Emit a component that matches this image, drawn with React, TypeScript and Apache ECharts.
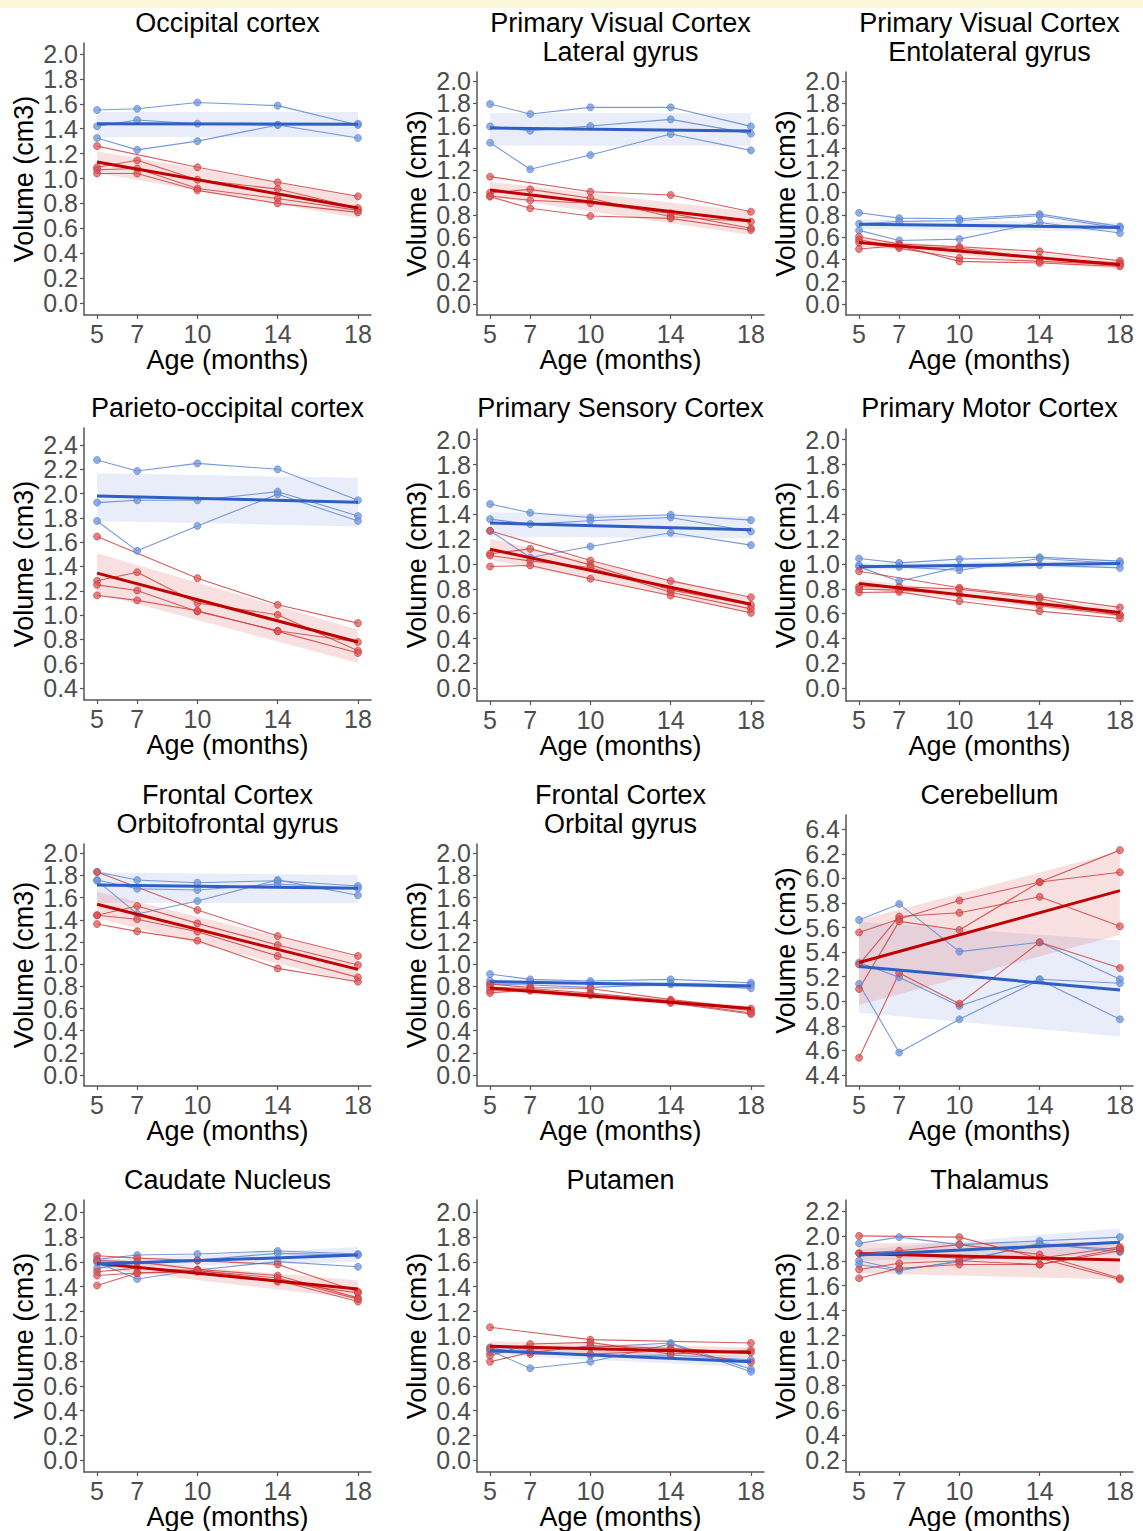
import React, { useEffect, useRef } from "react";
import * as echarts from "echarts";

// ---------- shared values ----------
const AGES = [5, 7, 10, 14, 18];
const FIT_X = [5, 18];
const TICKS_0_20 = [0, 0.2, 0.4, 0.6, 0.8, 1.0, 1.2, 1.4, 1.6, 1.8, 2.0];
const TICKS_04_24 = [0.4, 0.6, 0.8, 1.0, 1.2, 1.4, 1.6, 1.8, 2.0, 2.2, 2.4];
const TICKS_44_64 = [4.4, 4.6, 4.8, 5.0, 5.2, 5.4, 5.6, 5.8, 6.0, 6.2, 6.4];
const TICKS_02_22 = [0.2, 0.4, 0.6, 0.8, 1.0, 1.2, 1.4, 1.6, 1.8, 2.0, 2.2];

// ---------- Occipital cortex ----------
const occBlue = [
  [1.55, 1.56, 1.61, 1.585, 1.43],
  [1.42, 1.47, 1.44, 1.43, 1.44],
  [1.325, 1.23, 1.3, 1.43, 1.325],
];
const occRed = [
  [1.26, null, 1.09, 0.97, 0.857],
  [1.09, 1.146, 0.99, 0.915, 0.763],
  [1.07, 1.08, 0.92, 0.84, 0.744],
  [1.04, 1.04, 0.905, 0.8, 0.728],
];
const occBlueFit = [1.44, 1.435];
const occRedFit = [1.133, 0.763];
const occBlueBand = [[1.333, 1.534], [1.333, 1.534]];
const occRedBand = [[1.044, 1.218], [0.683, 0.857]];

// ---------- Primary Visual Cortex, Lateral gyrus ----------
const latBlue = [
  [1.794, 1.704, 1.764, 1.764, 1.593],
  [1.593, 1.554, 1.596, 1.656, 1.528],
  [1.447, 1.208, 1.336, 1.525, 1.378],
];
const latRed = [
  [1.142, null, 1.007, 0.978, 0.828],
  [0.998, 1.028, 0.948, 0.783, 0.738],
  [0.968, 0.93, 0.903, 0.813, 0.679],
  [0.963, 0.858, 0.789, 0.768, 0.664],
];
const latBlueFit = [1.578, 1.552];
const latRedFit = [1.022, 0.744];
const latBlueBand = [[1.42, 1.71], [1.42, 1.71]];
const latRedBand = [[0.963, 1.097], [0.619, 0.828]];

// ---------- Primary Visual Cortex, Entolateral gyrus ----------
const entBlue = [
  [0.818, 0.77, 0.764, 0.806, 0.696],
  [0.719, 0.74, 0.749, 0.791, 0.68],
  [0.66, 0.57, 0.582, 0.731, 0.636],
];
const entRed = [
  [0.603, 0.537, 0.513, 0.472, 0.388],
  [0.576, 0.516, 0.501, 0.412, 0.367],
  [0.552, 0.501, 0.412, 0.382, 0.352],
  [0.493, 0.522, 0.382, 0.367, 0.337],
];
const entBlueFit = [0.716, 0.687];
const entRedFit = [0.552, 0.352];
const entBlueBand = [[0.67, 0.76], [0.65, 0.73]];
const entRedBand = [[0.516, 0.59], [0.31, 0.397]];

// ---------- Parieto-occipital cortex ----------
const parBlue = [
  [2.277, 2.186, 2.249, 2.2, 1.945],
  [1.926, 1.945, 1.945, 2.016, 1.816],
  [1.775, 1.529, 1.734, 1.995, 1.775],
];
const parRed = [
  [1.647, null, 1.304, 1.085, 0.934],
  [1.282, 1.353, 1.099, 1.003, 0.707],
  [1.249, 1.203, 1.03, 0.871, 0.778],
  [1.162, 1.121, 1.036, 0.866, 0.688],
];
const parBlueFit = [1.981, 1.929];
const parRedFit = [1.345, 0.778];
const parBlueBand = [[1.775, 2.167], [1.729, 2.13]];
const parRedBand = [[1.18, 1.51], [0.605, 0.879]];

// ---------- Primary Sensory Cortex ----------
const senBlue = [
  [1.482, 1.412, 1.374, 1.396, 1.353],
  [1.361, 1.321, 1.348, 1.374, 1.262],
  [1.267, 1.052, 1.141, 1.251, 1.152],
];
const senRed = [
  [1.267, null, 1.028, 0.864, 0.733],
  [1.082, 1.122, 0.993, 0.792, 0.671],
  [1.068, 1.025, 0.972, 0.773, 0.639],
  [0.98, 0.988, 0.881, 0.746, 0.607],
];
const senBlueFit = [1.329, 1.275];
const senRedFit = [1.119, 0.677];
const senBlueBand = [[1.221, 1.417], [1.208, 1.383]];
const senRedBand = [[1.034, 1.203], [0.617, 0.725]];

// ---------- Primary Motor Cortex ----------
const motBlue = [
  [1.044, 1.009, 1.039, 1.055, 1.023],
  [0.991, 0.977, 0.95, 1.044, 1.004],
  [0.977, 0.862, 0.977, 0.991, 0.969],
];
const motRed = [
  [0.942, null, 0.809, 0.736, 0.651],
  [0.817, 0.817, 0.798, 0.723, 0.589],
  [0.798, 0.79, 0.755, 0.664, 0.589],
  [0.771, 0.776, 0.701, 0.621, 0.562],
];
const motBlueFit = [0.977, 1.004];
const motRedFit = [0.843, 0.61];
const motBlueBand = [[0.95, 1.005], [0.975, 1.035]];
const motRedBand = [[0.81, 0.875], [0.575, 0.645]];

// ---------- Frontal Cortex, Orbitofrontal gyrus ----------
const ofBlue = [
  [1.832, 1.759, 1.735, 1.753, 1.705],
  [1.759, 1.681, 1.669, 1.723, 1.684],
  [1.753, 1.453, 1.57, 1.759, 1.621],
];
const ofRed = [
  [1.832, null, 1.489, 1.254, 1.074],
  [1.441, 1.525, 1.368, 1.173, 0.992],
  [1.441, 1.405, 1.293, 1.074, 0.881],
  [1.362, 1.296, 1.212, 0.962, 0.842],
];
const ofBlueFit = [1.714, 1.684];
const ofRedFit = [1.54, 0.953];
const ofBlueBand = [[1.555, 1.826], [1.549, 1.805]];
const ofRedBand = [[1.414, 1.654], [0.827, 1.068]];

// ---------- Frontal Cortex, Orbital gyrus ----------
const orbBlue = [
  [0.911, 0.863, 0.848, 0.863, 0.833],
  [0.851, 0.842, 0.827, 0.827, 0.812],
  [0.821, 0.812, 0.791, 0.818, 0.782],
];
const orbRed = [
  [0.82, 0.79, 0.78, 0.68, 0.6],
  [0.79, 0.78, 0.74, 0.67, 0.58],
  [0.76, 0.76, 0.73, 0.66, 0.56],
  [0.74, 0.77, 0.72, 0.65, 0.55],
];
const orbBlueFit = [0.842, 0.803];
const orbRedFit = [0.785, 0.6];
const orbBlueBand = [[0.82, 0.865], [0.78, 0.83]];
const orbRedBand = [[0.76, 0.81], [0.575, 0.625]];

// ---------- Cerebellum ----------
const cerBlue = [
  [5.662, 5.792, 5.404, 5.48, 5.179],
  [5.315, 5.195, 4.962, 5.179, 5.146],
  [5.141, 4.582, 4.853, 5.173, 4.853],
];
const cerRed = [
  [5.56, 5.67, 5.82, 5.97, 6.05],
  [5.3, 5.69, 5.72, 5.85, 5.61],
  [5.1, 5.65, 5.58, 5.97, 6.23],
  [4.54, 5.23, 4.98, 5.48, 5.27],
];
const cerBlueFit = [5.282, 5.092];
const cerRedFit = [5.315, 5.9];
const cerBlueBand = [[4.907, 5.648], [4.712, 5.494]];
const cerRedBand = [[4.97, 5.66], [5.54, 6.22]];

// ---------- Caudate Nucleus ----------
const cauBlue = [
  [1.62, 1.655, 1.664, 1.688, 1.664],
  [1.548, 1.596, 1.615, 1.669, 1.655],
  [1.596, 1.462, 1.534, 1.602, 1.561],
];
const cauRed = [
  [1.65, 1.63, 1.61, 1.58, 1.36],
  [1.61, 1.6, 1.54, 1.49, 1.31],
  [1.52, 1.55, 1.53, 1.45, 1.28],
  [1.49, 1.51, 1.52, 1.44, 1.35],
  [1.41, 1.51, 1.53, 1.47, 1.3],
];
const cauBlueFit = [1.583, 1.655];
const cauRedFit = [1.588, 1.381];
const cauBlueBand = [[1.55, 1.615], [1.6, 1.72]];
const cauRedBand = [[1.55, 1.63], [1.3, 1.45]];

// ---------- Putamen ----------
const putBlue = [
  [0.911, 0.897, 0.911, 0.946, 0.735],
  [0.884, 0.743, 0.795, 0.938, 0.714],
  [0.87, 0.884, 0.843, 0.849, 0.811],
];
const putRed = [
  [1.073, null, 0.973, null, 0.946],
  [0.843, 0.938, 0.951, 0.857, 0.889],
  [0.795, 0.87, 0.924, 0.903, 0.87],
  [0.903, 0.857, 0.857, 0.884, 0.789],
];
const putBlueFit = [0.884, 0.795];
const putRedFit = [0.919, 0.87];
const putBlueBand = [[0.85, 0.92], [0.75, 0.84]];
const putRedBand = [[0.88, 0.96], [0.83, 0.91]];

// ---------- Thalamus ----------
const thaBlue = [
  [1.94, 1.99, 1.93, 1.96, 1.99],
  [1.8, 1.73, 1.79, 1.94, 1.87],
  [1.77, 1.72, 1.8, 1.93, 1.89],
];
const thaRed = [
  [2.0, null, 1.99, null, 1.65],
  [1.86, 1.88, 1.93, 1.85, 1.66],
  [1.73, 1.78, 1.8, 1.77, 1.9],
  [1.66, 1.74, 1.77, 1.77, 1.88],
  [1.86, 1.85, 1.82, 1.82, 1.91],
];
const thaBlueFit = [1.846, 1.948];
const thaRedFit = [1.857, 1.806];
const thaBlueBand = [[1.8, 1.89], [1.85, 2.06]];
const thaRedBand = [[1.7, 1.94], [1.65, 1.95]];

// ---------- panel list ----------
const PANELS = [
  { title: ["Occipital cortex"], ticks: TICKS_0_20, blue: occBlue, red: occRed, blueFit: occBlueFit, redFit: occRedFit, blueBand: occBlueBand, redBand: occRedBand },
  { title: ["Primary Visual Cortex", "Lateral gyrus"], ticks: TICKS_0_20, blue: latBlue, red: latRed, blueFit: latBlueFit, redFit: latRedFit, blueBand: latBlueBand, redBand: latRedBand },
  { title: ["Primary Visual Cortex", "Entolateral gyrus"], ticks: TICKS_0_20, blue: entBlue, red: entRed, blueFit: entBlueFit, redFit: entRedFit, blueBand: entBlueBand, redBand: entRedBand },
  { title: ["Parieto-occipital cortex"], ticks: TICKS_04_24, blue: parBlue, red: parRed, blueFit: parBlueFit, redFit: parRedFit, blueBand: parBlueBand, redBand: parRedBand },
  { title: ["Primary Sensory Cortex"], ticks: TICKS_0_20, blue: senBlue, red: senRed, blueFit: senBlueFit, redFit: senRedFit, blueBand: senBlueBand, redBand: senRedBand },
  { title: ["Primary Motor Cortex"], ticks: TICKS_0_20, blue: motBlue, red: motRed, blueFit: motBlueFit, redFit: motRedFit, blueBand: motBlueBand, redBand: motRedBand },
  { title: ["Frontal Cortex", "Orbitofrontal gyrus"], ticks: TICKS_0_20, blue: ofBlue, red: ofRed, blueFit: ofBlueFit, redFit: ofRedFit, blueBand: ofBlueBand, redBand: ofRedBand },
  { title: ["Frontal Cortex", "Orbital gyrus"], ticks: TICKS_0_20, blue: orbBlue, red: orbRed, blueFit: orbBlueFit, redFit: orbRedFit, blueBand: orbBlueBand, redBand: orbRedBand },
  { title: ["Cerebellum"], ticks: TICKS_44_64, blue: cerBlue, red: cerRed, blueFit: cerBlueFit, redFit: cerRedFit, blueBand: cerBlueBand, redBand: cerRedBand },
  { title: ["Caudate Nucleus"], ticks: TICKS_0_20, blue: cauBlue, red: cauRed, blueFit: cauBlueFit, redFit: cauRedFit, blueBand: cauBlueBand, redBand: cauRedBand },
  { title: ["Putamen"], ticks: TICKS_0_20, blue: putBlue, red: putRed, blueFit: putBlueFit, redFit: putRedFit, blueBand: putBlueBand, redBand: putRedBand },
  { title: ["Thalamus"], ticks: TICKS_02_22, blue: thaBlue, red: thaRed, blueFit: thaBlueFit, redFit: thaRedFit, blueBand: thaBlueBand, redBand: thaRedBand },
];

// ---------- layout (pixels) ----------
const COL_LEFT = [84, 477, 846];
const PLOT_W = 287;
const LAYOUT = [
  { top: 43, bottom: 315, yMin: -0.096, yMax: 2.088, titleY: 23 },
  { top: 72, bottom: 315, yMin: -0.099, yMax: 2.081, titleY: 23 },
  { top: 72, bottom: 315, yMin: -0.099, yMax: 2.081, titleY: 23 },
  { top: 428, bottom: 700, yMin: 0.301, yMax: 2.54, titleY: 408 },
  { top: 429, bottom: 701, yMin: -0.102, yMax: 2.086, titleY: 408 },
  { top: 429, bottom: 701, yMin: -0.102, yMax: 2.086, titleY: 408 },
  { top: 844, bottom: 1086, yMin: -0.099, yMax: 2.084, titleY: 795 },
  { top: 844, bottom: 1086, yMin: -0.099, yMax: 2.084, titleY: 795 },
  { top: 815, bottom: 1086, yMin: 4.31, yMax: 6.516, titleY: 795 },
  { top: 1200, bottom: 1472, yMin: -0.094, yMax: 2.099, titleY: 1180 },
  { top: 1200, bottom: 1472, yMin: -0.094, yMax: 2.099, titleY: 1180 },
  { top: 1200, bottom: 1472, yMin: 0.104, yMax: 2.288, titleY: 1180 },
];

const FONT = "Liberation Sans, Arial, sans-serif";
const AXIS_COLOR = "#555555";
const LABEL_COLOR = "#4d4d4d";
const BLUE_LINE = "rgba(95,135,210,0.85)";
const BLUE_DOT = "rgba(110,148,215,0.75)";
const BLUE_FIT = "#2f5fc4";
const BLUE_BAND = "rgba(90,130,210,0.14)";
const RED_LINE = "rgba(205,55,55,0.8)";
const RED_DOT = "rgba(215,80,80,0.7)";
const RED_FIT = "#c00000";
const RED_BAND = "rgba(220,70,70,0.17)";

function buildOption() {
  const grid: any[] = [];
  const xAxis: any[] = [];
  const yAxis: any[] = [];
  const yAxisAlt: any[] = [];
  const series: any[] = [];
  const title: any[] = [];

  const yLabelStyle = {
    fontSize: 25,
    color: LABEL_COLOR,
    margin: 6,
    fontFamily: FONT,
    showMinLabel: true,
    showMaxLabel: true,
    hideOverlap: false,
    formatter: (v: number) => v.toFixed(1),
  };

  PANELS.forEach((p, i) => {
    const L = LAYOUT[i];
    const left = COL_LEFT[i % 3];
    grid.push({ left, top: L.top, width: PLOT_W, height: L.bottom - L.top, outerBoundsMode: "none" });
    title.push({
      text: p.title.join("\n"),
      left: left + PLOT_W / 2,
      top: L.titleY - 14.5,
      textAlign: "center",
      padding: 0,
      textStyle: { fontSize: 27, fontWeight: "normal", color: "#000", lineHeight: 29, fontFamily: FONT },
    });
    xAxis.push({
      type: "value",
      gridIndex: i,
      min: 4.35,
      max: 18.65,
      name: "Age (months)",
      nameLocation: "middle",
      nameGap: 27,
      nameTextStyle: { fontSize: 27, color: "#000", fontFamily: FONT },
      axisLine: { show: true, onZero: false, lineStyle: { color: AXIS_COLOR, width: 1.5 } },
      axisTick: { show: true, length: 4, customValues: AGES, lineStyle: { color: AXIS_COLOR, width: 1.2 } },
      axisLabel: {
        customValues: AGES,
        fontSize: 25,
        color: LABEL_COLOR,
        margin: 6,
        fontFamily: FONT,
        showMinLabel: true,
        showMaxLabel: true,
        hideOverlap: false,
      },
      splitLine: { show: false },
    });
    // even ticks on the main axis, odd ticks on a twin axis so that none are dropped
    const evenTicks = p.ticks.filter((_, k) => k % 2 === 0);
    const oddTicks = p.ticks.filter((_, k) => k % 2 === 1);
    yAxis.push({
      type: "value",
      gridIndex: i,
      position: "left",
      min: L.yMin,
      max: L.yMax,
      name: "Volume (cm3)",
      nameLocation: "middle",
      nameGap: 47,
      nameRotate: 90,
      nameTextStyle: { fontSize: 27, color: "#000", fontFamily: FONT },
      axisLine: { show: true, onZero: false, lineStyle: { color: AXIS_COLOR, width: 1.5 } },
      axisTick: { show: true, length: 4, customValues: evenTicks, lineStyle: { color: AXIS_COLOR, width: 1.2 } },
      axisLabel: { ...yLabelStyle, customValues: evenTicks },
      splitLine: { show: false },
    });
    yAxisAlt.push({
      type: "value",
      gridIndex: i,
      position: "left",
      offset: 0,
      min: L.yMin,
      max: L.yMax,
      axisLine: { show: false, onZero: false },
      axisTick: { show: true, length: 4, customValues: oddTicks, lineStyle: { color: AXIS_COLOR, width: 1.2 } },
      axisLabel: { ...yLabelStyle, customValues: oddTicks },
      splitLine: { show: false },
    });

    const band = (b: number[][], color: string, z: number) => ({
      type: "custom",
      xAxisIndex: i,
      yAxisIndex: i,
      silent: true,
      z,
      data: [[FIT_X[0], b[0][0]]],
      encode: { x: 0, y: 1 },
      renderItem: (_params: any, api: any) => {
        const hi = FIT_X.map((x, k) => api.coord([x, b[k][1]]));
        const lo = FIT_X.map((x, k) => api.coord([x, b[k][0]])).reverse();
        return { type: "polygon", shape: { points: [...hi, ...lo] }, style: { fill: color } };
      },
    });
    series.push(band(p.blueBand, BLUE_BAND, 1));
    series.push(band(p.redBand, RED_BAND, 1));

    const subject = (row: (number | null)[], line: string, dot: string) => ({
      type: "line",
      xAxisIndex: i,
      yAxisIndex: i,
      data: AGES.map((a, k) => [a, row[k] === null ? "-" : row[k]]),
      connectNulls: true,
      symbol: "circle",
      symbolSize: 7,
      showSymbol: true,
      silent: true,
      z: 2,
      lineStyle: { width: 1.1, color: line },
      itemStyle: { color: dot, borderColor: line, borderWidth: 0.8 },
    });
    p.blue.forEach((row) => series.push(subject(row, BLUE_LINE, BLUE_DOT)));
    p.red.forEach((row) => series.push(subject(row, RED_LINE, RED_DOT)));

    const fit = (vals: number[], color: string) => ({
      type: "line",
      xAxisIndex: i,
      yAxisIndex: i,
      data: FIT_X.map((x, k) => [x, vals[k]]),
      symbol: "none",
      silent: true,
      z: 3,
      lineStyle: { width: 3, color },
    });
    series.push(fit(p.redFit, RED_FIT));
    series.push(fit(p.blueFit, BLUE_FIT));
  });

  return {
    animation: false,
    backgroundColor: "#ffffff",
    textStyle: { fontFamily: FONT },
    title,
    grid,
    xAxis,
    yAxis: [...yAxis, ...yAxisAlt],
    series,
    graphic: [
      { type: "rect", shape: { x: 0, y: 0, width: 1143, height: 8 }, style: { fill: "#fdf7da" }, silent: true },
    ],
  };
}

export default function App() {
  const ref = useRef<HTMLDivElement>(null);
  useEffect(() => {
    if (!ref.current) return;
    const chart = echarts.init(ref.current, null, { renderer: "svg" });
    chart.setOption(buildOption() as any);
    return () => chart.dispose();
  }, []);
  return (
    <div
      ref={ref}
      style={{ position: "absolute", left: 0, top: 0, width: 1143, height: 1531, background: "#fff" }}
    />
  );
}
